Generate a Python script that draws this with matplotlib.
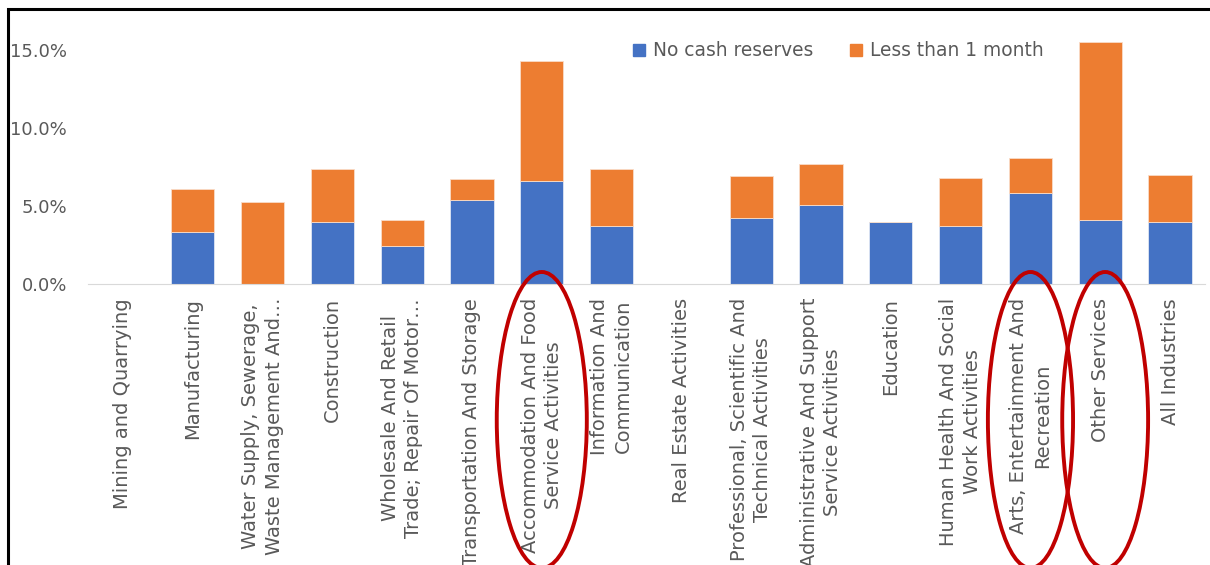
import matplotlib.pyplot as plt
import matplotlib.transforms as mtransforms
from matplotlib.patches import Ellipse, Rectangle, Patch

# data (percent of businesses)
industries = [
    "Mining and Quarrying",
    "Manufacturing",
    "Water Supply, Sewerage,\nWaste Management And\u2026",
    "Construction",
    "Wholesale And Retail\nTrade; Repair Of Motor\u2026",
    "Transportation And Storage",
    "Accommodation And Food\nService Activities",
    "Information And\nCommunication",
    "Real Estate Activities",
    "Professional, Scientific And\nTechnical Activities",
    "Administrative And Support\nService Activities",
    "Education",
    "Human Health And Social\nWork Activities",
    "Arts, Entertainment And\nRecreation",
    "Other Services",
    "All Industries",
]
no_cash = [0, 3.35, 0, 3.95, 2.45, 5.4, 6.6, 3.7, 0, 4.25, 5.1, 4.0, 3.7, 5.85, 4.1, 4.0]
less_month = [0, 2.75, 5.25, 3.45, 1.65, 1.35, 7.7, 3.65, 0, 2.65, 2.6, 0, 3.1, 2.25, 11.4, 3.0]
y_ticks = [0, 5, 10, 15]
highlighted = [6, 13, 14]

blue = "#4472C4"
orange = "#ED7D31"
grey = "#595959"

fig = plt.figure(figsize=(12.1, 5.65), dpi=100)
ax = fig.add_axes([88 / 1210, 1 - 284 / 565, 1117 / 1210, 265 / 565])

x = list(range(len(industries)))
ax.bar(x, no_cash, width=0.62, color=blue, edgecolor="#dfe6f4", linewidth=0.6, label="No cash reserves")
ax.bar(x, less_month, width=0.62, bottom=no_cash, color=orange, edgecolor="#f9dcc8",
       linewidth=0.6, label="Less than 1 month")

ax.set_xlim(-0.5, len(industries) - 0.5)
ax.set_ylim(0, 17)
ax.set_yticks(y_ticks)
ax.set_yticklabels([f"{v:.1f}%" for v in y_ticks], color=grey, fontsize=13)
ax.tick_params(axis="y", length=0, pad=15)

ax.set_xticks(x)
ax.set_xticklabels(industries, rotation=90, ha="center", va="top", multialignment="center",
                   color=grey, fontsize=14, linespacing=1.3)
ax.tick_params(axis="x", length=0, pad=10)

for side in ["top", "right", "left"]:
    ax.spines[side].set_visible(False)
ax.spines["bottom"].set_color("#d9d9d9")

handles = [Patch(color=blue), Patch(color=orange)]
ax.legend(handles, ["No cash reserves", "Less than 1 month"], loc="center left",
          bbox_to_anchor=((633 - 88) / 1117, (284 - 51) / 265), ncol=2, frameon=False,
          fontsize=13.4, labelcolor=grey, handlelength=0.65, handleheight=0.65,
          handletextpad=0.4, columnspacing=2.0, borderpad=0, borderaxespad=0)

# red ellipses round the highlighted categories
trans = mtransforms.blended_transform_factory(ax.transData, fig.transFigure)
widths = {6: 1.29, 13: 1.22, 14: 1.23}
offsets = {6: 0.0, 13: 0.0, 14: 0.07}
for i in highlighted:
    e = Ellipse((i + offsets[i], 1 - 420 / 565), widths[i], 296 / 565, transform=trans,
                fill=False, edgecolor="#C00000", linewidth=2.8, clip_on=False)
    fig.add_artist(e)

# frame of the screenshot (top and left edges)
fig.add_artist(Rectangle((8 / 1210, -0.1), 1.2, 1.1 - 9 / 565, transform=fig.transFigure,
                         fill=False, edgecolor="black", linewidth=2.2))

fig.savefig("out.png", dpi=100)
